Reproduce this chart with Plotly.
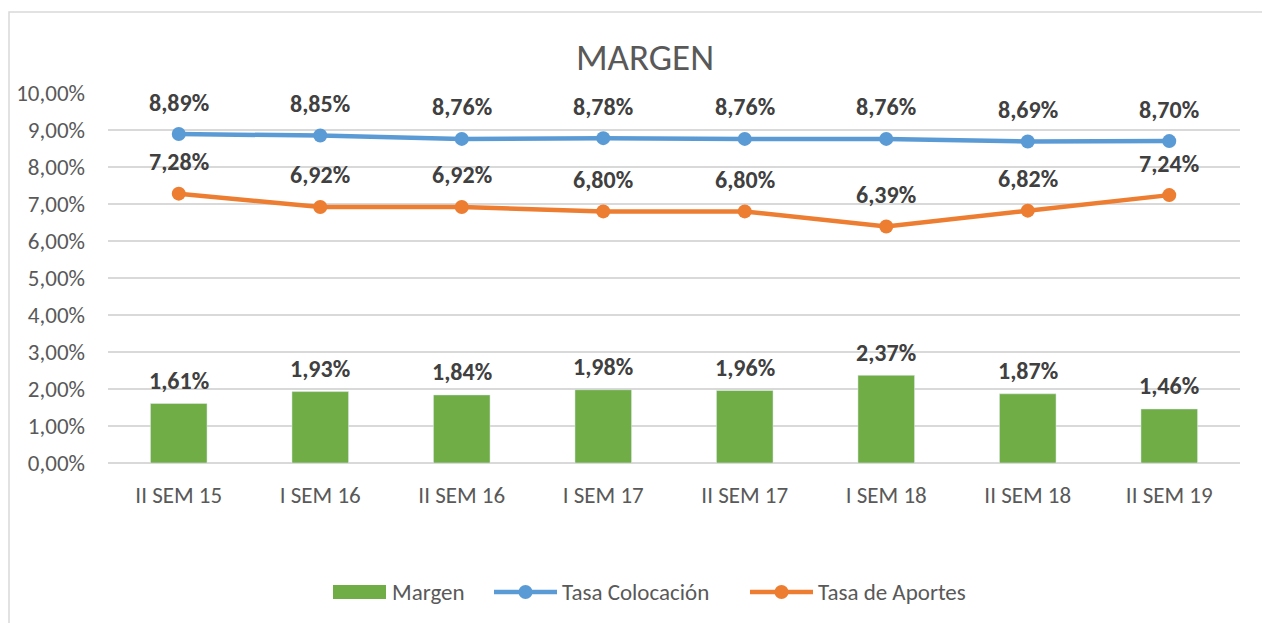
import plotly.graph_objects as go

categories = ["II SEM 15", "I SEM 16", "II SEM 16", "I SEM 17", "II SEM 17", "I SEM 18", "II SEM 18", "II SEM 19"]
margen = [0.0161, 0.0193, 0.0184, 0.0198, 0.0196, 0.0237, 0.0187, 0.0146]
tasa_colocacion = [0.0889, 0.0885, 0.0876, 0.0878, 0.0876, 0.0876, 0.0869, 0.0870]
tasa_aportes = [0.0728, 0.0692, 0.0692, 0.0680, 0.0680, 0.0639, 0.0682, 0.0724]
series_names = ["Margen", "Tasa Colocación", "Tasa de Aportes"]

GREEN = "#70AD47"
BLUE = "#5B9BD5"
ORANGE = "#ED7D31"
FONT = "Carlito, Lato, Open Sans, sans-serif"

# plot-area geometry (page pixels) used to place the hand-drawn legend
PX0, PX1, PY0, PY1 = 108, 1240, 463, 93
def fx(px):
    return (px - PX0) / (PX1 - PX0)
def fy(py):
    return (PY0 - py) / (PY0 - PY1)

fig = go.Figure()
fig.add_trace(go.Bar(x=categories, y=margen, name=series_names[0], marker_color=GREEN, width=0.4))
fig.add_trace(go.Scatter(x=categories, y=tasa_colocacion, name=series_names[1], mode="lines+markers",
                         line=dict(color=BLUE, width=4.5), marker=dict(size=14, color=BLUE)))
fig.add_trace(go.Scatter(x=categories, y=tasa_aportes, name=series_names[2], mode="lines+markers",
                         line=dict(color=ORANGE, width=4.5), marker=dict(size=14, color=ORANGE)))

def pct(v):
    return f"{v*100:.2f}%".replace(".", ",")

annotations = []
for series, shift in ((margen, 23), (tasa_colocacion, 32), (tasa_aportes, 32)):
    for c, v in zip(categories, series):
        annotations.append(dict(x=c, y=v, text=pct(v), showarrow=False, yshift=shift,
                                font=dict(family=FONT, size=24, color="#404040", weight="bold"),
                                xref="x", yref="y"))

# custom legend (Excel style)
LEG_Y = 592
shapes = [dict(type="rect", xref="paper", yref="paper", x0=fx(9), x1=1.1, y0=-0.6, y1=fy(12),
               line=dict(color="#D9D9D9", width=1.5), fillcolor="rgba(0,0,0,0)", layer="below")]
shapes.append(dict(type="rect", xref="paper", yref="paper", x0=fx(333), x1=fx(386),
                   y0=fy(LEG_Y + 7), y1=fy(LEG_Y - 7), line=dict(width=0), fillcolor=GREEN))
for (lx0, lx1), col in (((494, 557), BLUE), ((750, 813), ORANGE)):
    shapes.append(dict(type="line", xref="paper", yref="paper", x0=fx(lx0), x1=fx(lx1),
                       y0=fy(LEG_Y), y1=fy(LEG_Y), line=dict(color=col, width=4.5)))
    cx = (lx0 + lx1) / 2
    shapes.append(dict(type="circle", xref="paper", yref="paper", x0=fx(cx - 7), x1=fx(cx + 7),
                       y0=fy(LEG_Y + 7), y1=fy(LEG_Y - 7), line=dict(width=0), fillcolor=col))
for name, tx in zip(series_names, (390, 560, 816)):
    annotations.append(dict(x=fx(tx), y=fy(LEG_Y), xref="paper", yref="paper", text=name,
                            showarrow=False, xanchor="left", yanchor="middle",
                            font=dict(family=FONT, size=23, color="#595959")))

fig.update_layout(
    width=1270, height=623,
    margin=dict(l=100, r=38, t=85, b=168, autoexpand=False),
    paper_bgcolor="white", plot_bgcolor="white",
    separators=",.",
    font=dict(family=FONT, color="#595959", size=23),
    title=dict(text="MARGEN", x=0.5016, xanchor="center", y=0.921, yanchor="middle",
               font=dict(family=FONT, size=37, color="#595959")),
    xaxis=dict(showgrid=False, showline=False, ticks="", tickfont=dict(size=23, color="#595959"),
               ticklabelstandoff=16, automargin=False),
    yaxis=dict(range=[0, 0.1], dtick=0.01, tickformat=".2%", showgrid=True, gridcolor="#D9D9D9",
               gridwidth=1.5, zeroline=True, zerolinecolor="#D9D9D9", zerolinewidth=1.5,
               tickfont=dict(size=23, color="#595959"), ticks="", ticklabelstandoff=22,
               automargin=False),
    showlegend=False,
    annotations=annotations,
    shapes=shapes,
)

fig.write_html("out.html")
